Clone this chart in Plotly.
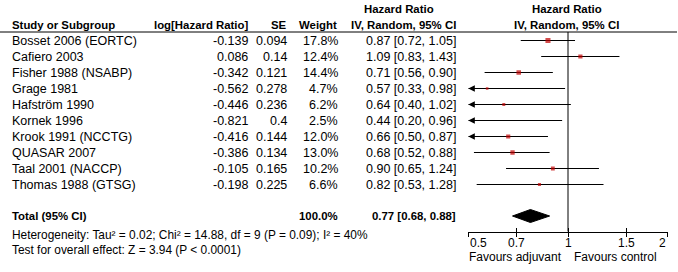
import math
import plotly.graph_objects as go

studies = ["Bosset 2006 (EORTC)", "Cafiero 2003", "Fisher 1988 (NSABP)", "Grage 1981",
           "Hafström 1990", "Kornek 1996", "Krook 1991 (NCCTG)", "QUASAR 2007",
           "Taal 2001 (NACCP)", "Thomas 1988 (GTSG)"]
log_hr = [-0.139, 0.086, -0.342, -0.562, -0.446, -0.821, -0.416, -0.386, -0.105, -0.198]
se = [0.094, 0.14, 0.121, 0.278, 0.236, 0.4, 0.144, 0.134, 0.165, 0.225]
weight = [17.8, 12.4, 14.4, 4.7, 6.2, 2.5, 12.0, 13.0, 10.2, 6.6]
hr = [0.87, 1.09, 0.71, 0.57, 0.64, 0.44, 0.66, 0.68, 0.90, 0.82]
ci_low = [0.72, 0.83, 0.56, 0.33, 0.40, 0.20, 0.50, 0.52, 0.65, 0.53]
ci_high = [1.05, 1.43, 0.90, 0.98, 1.02, 0.96, 0.87, 0.88, 1.24, 1.28]

total_weight = 100.0
total_hr, total_low, total_high = 0.77, 0.68, 0.88
heterogeneity = "Heterogeneity: Tau² = 0.02; Chi² = 14.88, df = 9 (P = 0.09); I² = 40%"
overall = "Test for overall effect: Z = 3.94 (P < 0.0001)"

tick_vals = [0.5, 0.7, 1, 1.5, 2]
tick_text = ["0.5", "0.7", "1", "1.5", "2"]
x_min, x_max = 0.5, 2

W, H = 678, 272
FONT = "Liberation Sans, Arial, sans-serif"
REG = 12.5
BOLD = 11.4
FOOT = 11.9
row_y0, row_dy = 40.5, 16
header_line_y = 32
axis_y = 231.5
total_y = 216

fig = go.Figure()
rows_y = [row_y0 + i * row_dy for i in range(len(studies))]

def px(x):
    return x / W

# CI lines (clipped at axis range) and arrows
for i in range(len(studies)):
    lo = max(ci_low[i], x_min)
    hi_ = min(ci_high[i], x_max)
    fig.add_trace(go.Scatter(x=[lo, hi_], y=[rows_y[i], rows_y[i]], mode="lines",
                             line=dict(color="black", width=1), hoverinfo="skip",
                             showlegend=False))
    if ci_low[i] <= x_min:
        fig.add_annotation(x=math.log10(x_min), y=rows_y[i], xref="x", yref="y",
                           ax=10, ay=0, axref="pixel", ayref="pixel", text="",
                           showarrow=True, arrowhead=2, arrowsize=1.3, arrowwidth=1,
                           arrowcolor="black")

# squares
vis = [i for i in range(len(studies)) if x_min <= hr[i] <= x_max]
fig.add_trace(go.Scatter(
    x=[hr[i] for i in vis], y=[rows_y[i] for i in vis], mode="markers",
    marker=dict(symbol="square", color="#c00000", size=[1.2 * math.sqrt(weight[i]) for i in vis],
                line=dict(width=0)),
    hoverinfo="skip", showlegend=False))

# diamond
fig.add_trace(go.Scatter(
    x=[total_low, total_hr, total_high, total_hr, total_low],
    y=[total_y, total_y - 6.5, total_y, total_y + 6.5, total_y],
    mode="lines", fill="toself", fillcolor="black", line=dict(color="black", width=1),
    hoverinfo="skip", showlegend=False))

# lines
fig.add_shape(type="line", xref="paper", yref="y", x0=0, x1=px(677), y0=header_line_y,
              y1=header_line_y, line=dict(color="black", width=1))
fig.add_shape(type="line", xref="x", yref="y", x0=1, x1=1, y0=header_line_y, y1=axis_y,
              line=dict(color="black", width=1))

def txt(x, y, s, anchor="left", bold=False, size=None, xref="paper"):
    fig.add_annotation(x=px(x) if xref == "paper" else x, y=y, xref=xref, yref="y", text=s,
                       showarrow=False, xanchor=anchor, yanchor="middle",
                       font=dict(family=FONT, size=size or (BOLD if bold else REG),
                                 color="black"))

# headers
txt(10, 24.5, "<b>Study or Subgroup</b>", bold=True)
txt(250, 24.5, "<b>log[Hazard Ratio]</b>", "right", bold=True)
txt(289, 24.5, "<b>SE</b>", "right", bold=True)
txt(339, 24.5, "<b>Weight</b>", "right", bold=True)
txt(398.5, 8.5, "<b>Hazard Ratio</b>", "center", bold=True)
txt(403, 24.5, "<b>IV, Random, 95% CI</b>", "center", bold=True)
txt(566.5, 8.5, "<b>Hazard Ratio</b>", "center", bold=True)
txt(566.5, 24.5, "<b>IV, Random, 95% CI</b>", "center", bold=True)

for i, s in enumerate(studies):
    y = rows_y[i]
    txt(10, y, s)
    txt(249.5, y, str(log_hr[i]), "right")
    txt(289, y, str(se[i]), "right")
    txt(339.5, y, f"{weight[i]:.1f}%", "right")
    txt(457.5, y, f"{hr[i]:.2f} [{ci_low[i]:.2f}, {ci_high[i]:.2f}]", "right")

txt(10, total_y, "<b>Total (95% CI)</b>", bold=True)
txt(339.5, total_y, f"<b>{total_weight:.1f}%</b>", "right", bold=True)
txt(457.5, total_y, f"<b>{total_hr:.2f} [{total_low:.2f}, {total_high:.2f}]</b>", "right", bold=True)
txt(10, 235, heterogeneity, size=FOOT)
txt(10, 250, overall, size=FOOT)

# tick labels
for v, t in zip(tick_vals, tick_text):
    anchor = "left" if v == x_min else ("right" if v == x_max else "center")
    fig.add_annotation(x=math.log10(v), y=243, xref="x", yref="y", text=t, showarrow=False,
                       xanchor=anchor, yanchor="middle",
                       font=dict(family=FONT, size=12, color="black"))
fig.add_annotation(x=0, y=257, xref="x", yref="y", text="Favours adjuvant", showarrow=False,
                   xanchor="right", xshift=-4, yanchor="middle",
                   font=dict(family=FONT, size=12, color="black"))
fig.add_annotation(x=0, y=257, xref="x", yref="y", text="Favours control", showarrow=False,
                   xanchor="left", xshift=4, yanchor="middle",
                   font=dict(family=FONT, size=12, color="black"))

pos = (H - axis_y) / H
dom = [468.3 / W, 667.7 / W]
fig.update_layout(
    width=W, height=H, margin=dict(l=0, r=0, t=0, b=0),
    paper_bgcolor="white", plot_bgcolor="white",
    xaxis=dict(type="log", range=[math.log10(x_min), math.log10(x_max)], domain=dom,
               anchor="free", position=pos, tickvals=tick_vals, showticklabels=False,
               ticks="outside", ticklen=4, tickcolor="black", showline=True,
               linecolor="black", linewidth=1, showgrid=False, zeroline=False),
    xaxis2=dict(type="log", range=[math.log10(x_min), math.log10(x_max)], domain=dom,
                anchor="free", position=pos, overlaying="x", tickvals=tick_vals,
                showticklabels=False, ticks="inside", ticklen=4, tickcolor="black",
                showline=False, showgrid=False, zeroline=False),
    yaxis=dict(range=[H, 0], domain=[0, 1], visible=False),
)
fig.add_trace(go.Scatter(x=[1], y=[-10], xaxis="x2", mode="markers", marker=dict(opacity=0),
                         hoverinfo="skip", showlegend=False))

fig.write_html("out.html", config={"displayModeBar": False},
               post_script="document.body.style.margin='0';")
